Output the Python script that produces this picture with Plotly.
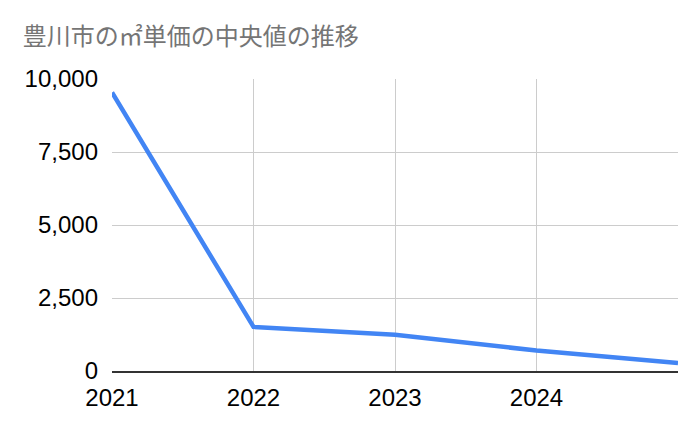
import plotly.graph_objects as go

# 豊川市の㎡単価の中央値
years = [2021, 2022, 2023, 2024, 2025]
median_price = [9540, 1510, 1240, 700, 270]

x_tick_vals = [2021, 2022, 2023, 2024, 2025]
x_tick_text = ["2021", "2022", "2023", "2024", ""]
y_tick_vals = [0, 2500, 5000, 7500, 10000]

fig = go.Figure(go.Scatter(
    x=years,
    y=median_price,
    mode="lines",
    line=dict(color="#4285F4", width=4.5),
    hoverinfo="x+y",
))

# the page body adds an 8px offset, margins allow for it
fig.update_layout(
    width=700,
    height=433,
    paper_bgcolor="white",
    plot_bgcolor="white",
    margin=dict(l=104, r=30, t=71, b=70),
    showlegend=False,
    title=dict(
        text="豊川市の㎡単価の中央値の推移",
        x=0.021, xanchor="left",
        y=0.935, yanchor="middle",
        font=dict(family="Noto Sans CJK JP", size=24, color="#757575"),
    ),
    font=dict(family="Liberation Sans, Arial", size=24, color="#000000"),
)

fig.update_xaxes(
    range=[2021, 2025],
    tickvals=x_tick_vals,
    ticktext=x_tick_text,
    showgrid=True,
    gridcolor="#cccccc",
    gridwidth=1,
    showline=True,
    linecolor="#333333",
    linewidth=1.5,
    zeroline=False,
    ticks="",
    ticklabelstandoff=4,
)

fig.update_yaxes(
    range=[0, 10000],
    tickvals=y_tick_vals,
    tickformat=",",
    showgrid=True,
    gridcolor="#cccccc",
    gridwidth=1,
    zeroline=False,
    showline=False,
    ticks="",
    ticklabelstandoff=13,
)

fig.write_html("out.html")
